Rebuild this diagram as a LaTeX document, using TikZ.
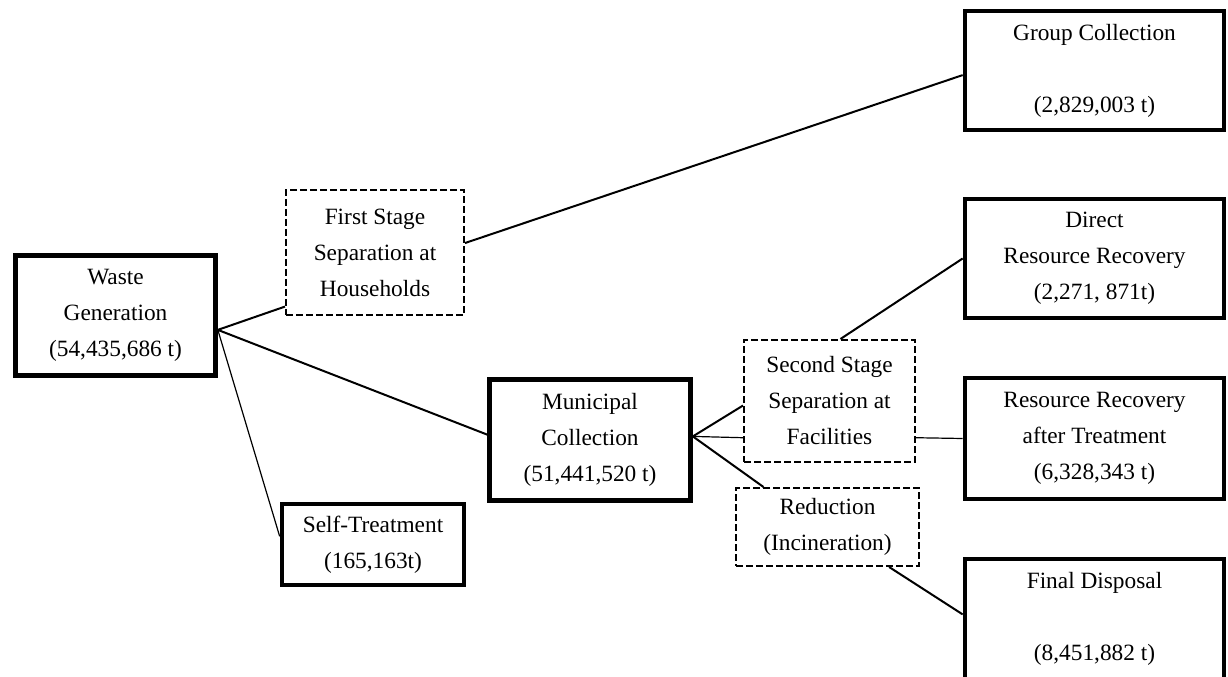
\documentclass[tikz,border=0pt]{standalone}
\usepackage{fontspec}
\setmainfont{Liberation Serif}

\begin{document}
\begin{tikzpicture}[
  x=0.75pt, y=-0.75pt,
  every node/.style={align=center, font=\fontsize{17.5}{27}\selectfont},
  solidbox/.style={draw, line width=3.5pt},
  dashbox/.style={draw, line width=1.5pt, dash pattern=on 5pt off 2.5pt},
  link/.style={line width=1.5pt},
  thinlink/.style={line width=0.9pt}
  ]
  \useasboundingbox (0,0) rectangle (1228,677);

  % Define nodes
  \node[solidbox, minimum width=150pt, minimum height=90pt] (waste) at (115.5,315.5) {Waste\\Generation\\(54,435,686 t)};
  \node[dashbox, minimum width=133.5pt, minimum height=93.75pt] (first) at (375,252.5) {First Stage\\Separation at\\Households};
  \node[solidbox, minimum width=136.5pt, minimum height=60.75pt] (self) at (373,544.5) {Self-Treatment\\(165,163t)};
  \node[solidbox, minimum width=150.75pt, minimum height=90.75pt] (muni) at (590,440) {Municipal\\Collection\\(51,441,520 t)};
  \node[dashbox, minimum width=128.25pt, minimum height=91.5pt] (second) at (829.5,401) {Second Stage\\Separation at\\Facilities};
  \node[dashbox, minimum width=137.25pt, minimum height=58.5pt] (reduce) at (827.5,527) {Reduction\\(Incineration)};

  % Right column
  \node[solidbox, minimum width=194.25pt, minimum height=89.25pt] (group) at (1094.5,70.5) {Group Collection\\[27pt](2,829,003 t)};
  \node[solidbox, minimum width=194.25pt, minimum height=89.25pt] (direct) at (1094.5,258.5) {Direct\\Resource Recovery\\(2,271, 871t)};
  \node[solidbox, minimum width=194.25pt, minimum height=90.75pt] (rr) at (1094.5,438.5) {Resource Recovery\\after Treatment\\(6,328,343 t)};
  \node[solidbox, minimum width=194.25pt, minimum height=90pt] (final) at (1094.5,619) {Final Disposal\\[27pt](8,451,882 t)};

  % Connectors from waste generation
  \draw[link] (waste.-8) -- (first.211);
  \draw[link] (waste.-8) -- (muni.177);
  \draw[thinlink] (waste.-8) -- (self.175);
  \draw[link] (first.6) -- (group.182);

  % Connectors from municipal collection
  \draw[link] (muni.2) -- (second.183);
  \draw[thinlink] (muni.2) -- (second.203);
  \draw[link] (muni.2) -- (reduce.148);

  % Connectors to the right column
  \draw[link] (second.80) -- (direct.west);
  \draw[thinlink] (second.-23) -- (rr.west);
  \draw[link] (reduce.-33) -- (final.178);

\end{tikzpicture}
\end{document}
